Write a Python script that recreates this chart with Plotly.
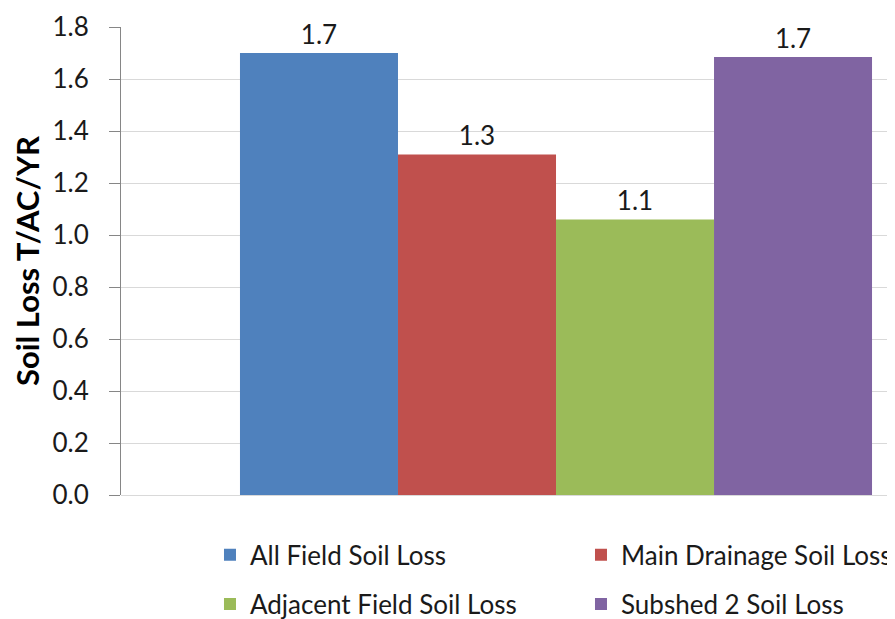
import plotly.graph_objects as go

series_names = ["All Field Soil Loss", "Main Drainage Soil Loss",
                "Adjacent Field Soil Loss", "Subshed 2 Soil Loss"]
series_values = [1.70, 1.31, 1.06, 1.685]
series_colors = ["#4F81BD", "#C0504D", "#9BBB59", "#8064A2"]
legend_rows = ["legend", "legend", "legend2", "legend2"]
y_tick_vals = [0.0, 0.2, 0.4, 0.6, 0.8, 1.0, 1.2, 1.4, 1.6, 1.8]
y_tick_text = ["0.0", "0.2", "0.4", "0.6", "0.8", "1.0", "1.2", "1.4", "1.6", "1.8"]

FONT = "Lato, 'Open Sans', sans-serif"
TXT = "#1a1a1a"

fig = go.Figure()
for name, val, col, lg in zip(series_names, series_values, series_colors, legend_rows):
    fig.add_trace(go.Bar(
        x=[0], y=[val], name=name, legend=lg,
        marker=dict(color=col, line=dict(width=0)),
        texttemplate="%{y:.1f}", textposition="outside",
        textfont=dict(size=26, color=TXT, family=FONT),
        cliponaxis=False,
    ))

legend_common = dict(
    orientation="h", xanchor="left", yanchor="middle",
    entrywidth=326, entrywidthmode="pixels",
    font=dict(size=26, family=FONT, color=TXT),
    traceorder="normal", itemwidth=30, bgcolor="rgba(0,0,0,0)",
)

fig.update_layout(
    width=895, height=619,
    margin=dict(l=113, r=0, t=19, b=132, autoexpand=False),
    paper_bgcolor="white", plot_bgcolor="white",
    barmode="group", bargap=0.2, bargroupgap=0,
    font=dict(family=FONT, color=TXT),
    showlegend=True,
    legend=dict(x=0.1138, y=-0.128, **legend_common),
    legend2=dict(x=0.1138, y=-0.2329, **legend_common),
    xaxis=dict(range=[-0.5506, 0.4392], showticklabels=False, showgrid=False,
               zeroline=False, showline=False, ticks=""),
    yaxis=dict(range=[0, 1.8], tickvals=y_tick_vals, ticktext=y_tick_text,
               showgrid=True, gridcolor="#d9d9d9", gridwidth=1,
               zeroline=True, zerolinecolor="#d9d9d9", zerolinewidth=1,
               showline=True, linecolor="#868686", linewidth=1,
               ticks="outside", ticklen=11, tickcolor="#868686",
               ticklabelstandoff=15,
               tickfont=dict(size=26, family=FONT, color=TXT),
               title=dict(text="<b>Soil Loss T/AC/YR</b>", standoff=21,
                          font=dict(size=31, family=FONT, color="#000"))),
)

fig.write_html("out.html")
